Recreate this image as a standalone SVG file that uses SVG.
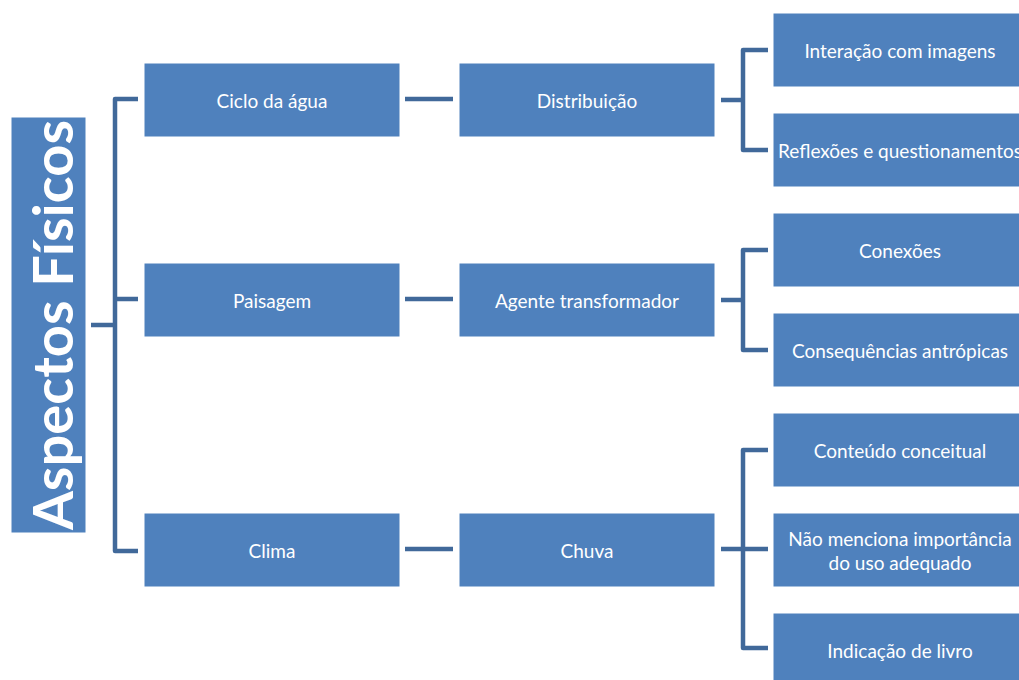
<svg xmlns="http://www.w3.org/2000/svg" width="1019" height="680" viewBox="0 0 1019 680">
<style>
.box{fill:#4F81BD;stroke:#ffffff;stroke-width:1}
.t{font-family:Lato,"Liberation Sans",sans-serif;font-size:19px;fill:#ffffff;text-anchor:middle;dominant-baseline:central}
.c{fill:none;stroke:#41699A;stroke-width:4.5;stroke-linejoin:round}
</style>
<rect width="1019" height="680" fill="#ffffff"/>
<g id="connectors">
<path class="c" d="M91 325H115M138 99H115V551H138M115 299H138"/>
<path class="c" d="M405 99H453M405 299H453M405 549H453"/>
<path class="c" d="M721 100H743M768 50H743V150H768"/>
<path class="c" d="M721 300H743M768 250H743V350H768"/>
<path class="c" d="M721 549H743M768 450H743V648H768M743 549H768"/>
</g>
<g id="title"><rect class="box" x="11" y="117" width="75" height="416"/>
<text transform="translate(51 325) rotate(-90)" font-family="Lato,'Liberation Sans',sans-serif" font-size="56" font-weight="bold" fill="#fff" text-anchor="middle" dominant-baseline="central">Aspectos Físicos</text></g>
<g id="n1"><rect class="box" x="144" y="63" width="256" height="74"/><text class="t" x="272" y="100">Ciclo da água</text></g>
<g id="n2"><rect class="box" x="144" y="263" width="256" height="74"/><text class="t" x="272" y="300">Paisagem</text></g>
<g id="n3"><rect class="box" x="144" y="513" width="256" height="74"/><text class="t" x="272" y="550">Clima</text></g>
<g id="n4"><rect class="box" x="459" y="63" width="256" height="74"/><text class="t" x="587" y="100">Distribuição</text></g>
<g id="n5"><rect class="box" x="459" y="263" width="256" height="74"/><text class="t" x="587" y="300">Agente transformador</text></g>
<g id="n6"><rect class="box" x="459" y="513" width="256" height="74"/><text class="t" x="587" y="550">Chuva</text></g>
<g id="n7"><rect class="box" x="773" y="13" width="256" height="74"/><text class="t" x="900" y="50">Interação com imagens</text></g>
<g id="n8"><rect class="box" x="773" y="113" width="256" height="74"/><text class="t" x="900" y="150">Reflexões e questionamentos</text></g>
<g id="n9"><rect class="box" x="773" y="213" width="256" height="74"/><text class="t" x="900" y="250">Conexões</text></g>
<g id="n10"><rect class="box" x="773" y="313" width="256" height="74"/><text class="t" x="900" y="350">Consequências  antrópicas</text></g>
<g id="n11"><rect class="box" x="773" y="413" width="256" height="74"/><text class="t" x="900" y="450">Conteúdo conceitual</text></g>
<g id="n12"><rect class="box" x="773" y="513" width="256" height="74"/><text class="t" x="900" y="538">Não menciona importância</text><text class="t" x="900" y="562">do uso adequado</text></g>
<g id="n13"><rect class="box" x="773" y="613" width="256" height="74"/><text class="t" x="900" y="650">Indicação de livro</text></g>
</svg>
